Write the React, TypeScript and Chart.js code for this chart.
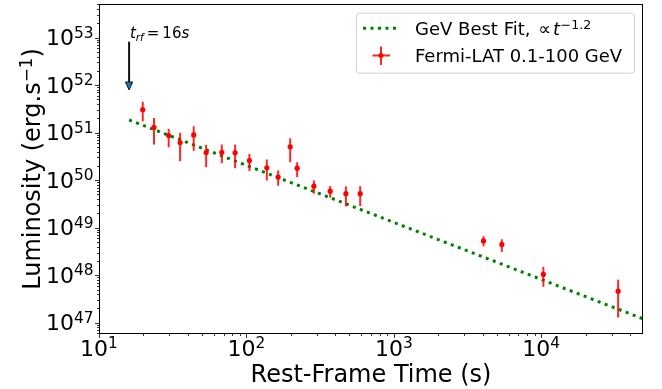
import React, { useEffect, useRef } from "react";
import { Chart, registerables } from "chart.js";
Chart.register(...registerables);

// ---- data ----
const times = [19.8, 23.6, 29.7, 35.5, 43.9, 53.3, 68.1, 83.8, 104.8, 137.5, 164.2, 198.1, 220.9, 286.8, 370, 473, 591.5, 4058, 5402, 10334, 33220];
const lum = [3.04e51, 1.29e51, 8.67e50, 6.18e50, 8.97e50, 3.81e50, 3.87e50, 3.76e50, 2.59e50, 1.82e50, 1.16e50, 5.02e50, 1.79e50, 7.48e49, 5.88e49, 5.19e49, 5.19e49, 5.26e48, 4.44e48, 1.04e48, 4.62e47];
const lumHi = [4.48e51, 2.04e51, 1.2e51, 9.89e50, 1.36e51, 5.53e50, 5.61e50, 5.61e50, 3.58e50, 2.72e50, 1.6e50, 7.6e50, 2.39e50, 9.86e49, 7.48e49, 7.38e49, 7.48e49, 6.6e48, 5.71e48, 1.5e48, 8.07e47];
const lumLo = [1.73e51, 5.61e50, 4.92e50, 2.51e50, 4.14e50, 1.87e50, 2.28e50, 1.79e50, 1.55e50, 9.86e49, 7.64e49, 2.39e50, 1.16e50, 5.19e49, 4.28e49, 2.81e49, 2.85e49, 4.06e48, 3.09e48, 5.7e47, 1.29e47];

const fitTimes = [16, 60000];
const fitLum = [1.85e51, 9.5e46];

const xMin = 10;
const xMax = 49000;
const yMin = 5.8e46;
const yMax = 5.09e53;
const xDecades = [1, 2, 3, 4];
const yDecades = [47, 48, 49, 50, 51, 52, 53];

const arrowTime = 16;
const arrowFrom = 8.2e52;
const arrowTo = 7.9e51;
const annotLum = 1e53;

const seriesFitLabel = "GeV Best Fit, ";
const seriesDataLabel = "Fermi-LAT 0.1-100 GeV";
const xTitle = "Rest-Frame Time (s)";
const yTitle = "Luminosity (erg.s";

const FONT = '"DejaVu Sans", "Liberation Sans", sans-serif';
const RED = "#ff0000";
const GREEN = "#008000";

function drawPow(ctx: CanvasRenderingContext2D, x: number, y: number, base: string, exp: string, size: number, align: "left" | "right" | "center") {
  const supSize = size * 0.7;
  ctx.font = `${size}px ${FONT}`;
  const wb = ctx.measureText(base).width;
  ctx.font = `${supSize}px ${FONT}`;
  const we = ctx.measureText(exp).width;
  const w = wb + we;
  let x0 = x;
  if (align === "right") x0 = x - w;
  if (align === "center") x0 = x - w / 2;
  ctx.textAlign = "left";
  ctx.textBaseline = "alphabetic";
  ctx.font = `${size}px ${FONT}`;
  ctx.fillText(base, x0, y);
  ctx.font = `${supSize}px ${FONT}`;
  ctx.fillText(exp, x0 + wb, y - size * 0.345);
}

function dottedLine(ctx: CanvasRenderingContext2D, x1: number, y1: number, x2: number, y2: number) {
  ctx.save();
  ctx.strokeStyle = GREEN;
  ctx.lineWidth = 3;
  ctx.setLineDash([3, 4.5]);
  ctx.beginPath();
  ctx.moveTo(x1, y1);
  ctx.lineTo(x2, y2);
  ctx.stroke();
  ctx.restore();
}

const mplPlugin = {
  id: "mplLook",
  beforeDatasetDraw(chart: any, args: any) {
    if (args.index !== 1) return;
    const ctx: CanvasRenderingContext2D = chart.ctx;
    const xs = chart.scales.x;
    const ys = chart.scales.y;
    const ca = chart.chartArea;
    ctx.save();
    ctx.beginPath();
    ctx.rect(ca.left, ca.top, ca.right - ca.left, ca.bottom - ca.top);
    ctx.clip();
    ctx.strokeStyle = "rgba(255,0,0,0.85)";
    ctx.lineWidth = 2;
    for (let i = 0; i < times.length; i++) {
      const px = xs.getPixelForValue(times[i]);
      ctx.beginPath();
      ctx.moveTo(px, ys.getPixelForValue(lumHi[i]));
      ctx.lineTo(px, ys.getPixelForValue(lumLo[i]));
      ctx.stroke();
    }
    ctx.restore();
  },
  afterDraw(chart: any) {
    const ctx: CanvasRenderingContext2D = chart.ctx;
    const xs = chart.scales.x;
    const ys = chart.scales.y;
    const ca = chart.chartArea;
    ctx.save();
    // frame
    ctx.strokeStyle = "#000";
    ctx.lineWidth = 1;
    ctx.strokeRect(ca.left + 0.5, ca.top + 0.5, ca.right - ca.left - 1, ca.bottom - ca.top - 1);
    // ticks
    ctx.beginPath();
    for (let d = 0; d <= 5; d++) {
      for (let m = 1; m <= 9; m++) {
        const v = m * Math.pow(10, d);
        if (v < xMin || v > xMax) continue;
        const px = Math.round(xs.getPixelForValue(v)) + 0.5;
        const len = m === 1 ? 4 : 2;
        ctx.moveTo(px, ca.bottom);
        ctx.lineTo(px, ca.bottom + len);
      }
    }
    for (let d = 46; d <= 53; d++) {
      for (let m = 1; m <= 9; m++) {
        const v = m * Math.pow(10, d);
        if (v < yMin || v > yMax) continue;
        const py = Math.round(ys.getPixelForValue(v)) + 0.5;
        const len = m === 1 ? 4 : 2;
        ctx.moveTo(ca.left, py);
        ctx.lineTo(ca.left - len, py);
      }
    }
    ctx.lineWidth = 0.8;
    ctx.stroke();

    // tick labels
    ctx.fillStyle = "#000";
    for (const d of xDecades) {
      const px = xs.getPixelForValue(Math.pow(10, d));
      drawPow(ctx, px, 356, "10", String(d), 22, "center");
    }
    for (const d of yDecades) {
      const py = ys.getPixelForValue(Math.pow(10, d));
      drawPow(ctx, 93.5, py + 7.6, "10", String(d), 22, "right");
    }

    // axis titles
    ctx.font = `24px ${FONT}`;
    ctx.textAlign = "center";
    ctx.textBaseline = "alphabetic";
    ctx.fillText(xTitle, (ca.left + ca.right) / 2, 381.5);

    ctx.save();
    ctx.translate(40, (ca.top + ca.bottom) / 2);
    ctx.rotate(-Math.PI / 2);
    ctx.font = `24px ${FONT}`;
    const w1 = ctx.measureText(yTitle).width;
    ctx.font = `${24 * 0.7}px ${FONT}`;
    const w2 = ctx.measureText("\u22121").width;
    ctx.font = `24px ${FONT}`;
    const w3 = ctx.measureText(")").width;
    const tot = w1 + w2 + w3;
    let x0 = -tot / 2;
    ctx.textAlign = "left";
    ctx.fillText(yTitle, x0, 0);
    ctx.font = `${24 * 0.7}px ${FONT}`;
    ctx.fillText("\u22121", x0 + w1, -24 * 0.345);
    ctx.font = `24px ${FONT}`;
    ctx.fillText(")", x0 + w1 + w2, 0);
    ctx.restore();

    // arrow
    const ax = xs.getPixelForValue(arrowTime);
    const ay1 = ys.getPixelForValue(arrowFrom);
    const ay2 = ys.getPixelForValue(arrowTo);
    const headLen = 8;
    ctx.strokeStyle = "#111";
    ctx.lineWidth = 2;
    ctx.beginPath();
    ctx.moveTo(ax, ay1);
    ctx.lineTo(ax, ay2 - headLen);
    ctx.stroke();
    ctx.beginPath();
    ctx.moveTo(ax - 3.6, ay2 - headLen);
    ctx.lineTo(ax + 3.6, ay2 - headLen);
    ctx.lineTo(ax, ay2);
    ctx.closePath();
    ctx.fillStyle = "#1f77b4";
    ctx.fill();
    ctx.lineWidth = 1;
    ctx.strokeStyle = "#111";
    ctx.stroke();

    // annotation text t_rf = 16s
    ctx.fillStyle = "#000";
    ctx.textAlign = "left";
    ctx.textBaseline = "alphabetic";
    const tx = ax + 0.8;
    const ty = ys.getPixelForValue(annotLum);
    let cx = tx;
    ctx.font = `italic 15px ${FONT}`;
    ctx.fillText("t", cx, ty);
    cx += ctx.measureText("t").width;
    ctx.font = `italic 10.5px ${FONT}`;
    ctx.fillText("rf", cx, ty + 3);
    cx += ctx.measureText("rf").width + 3;
    ctx.font = `15px ${FONT}`;
    ctx.fillText("=", cx, ty);
    cx += ctx.measureText("=").width + 3;
    ctx.fillText("16", cx, ty);
    cx += ctx.measureText("16").width;
    ctx.font = `italic 15px ${FONT}`;
    ctx.fillText("s", cx, ty);

    // legend
    const lx = 356, ly = 12.7, lw = 278, lh = 60;
    ctx.beginPath();
    (ctx as any).roundRect(lx + 0.5, ly + 0.5, lw, lh, 3);
    ctx.fillStyle = "rgba(255,255,255,0.8)";
    ctx.fill();
    ctx.strokeStyle = "rgba(204,204,204,0.9)";
    ctx.lineWidth = 1;
    ctx.stroke();

    dottedLine(ctx, 363, 28.3, 398, 28.3);
    ctx.fillStyle = "#000";
    ctx.font = `18px ${FONT}`;
    ctx.textAlign = "left";
    ctx.fillText(seriesFitLabel, 415, 34.8);
    let lxp = 415 + ctx.measureText(seriesFitLabel).width + 2;
    ctx.fillText("\u221d", lxp, 34.8);
    lxp += ctx.measureText("\u221d").width + 2;
    ctx.font = `italic 18px ${FONT}`;
    ctx.fillText("t", lxp, 34.8);
    lxp += ctx.measureText("t").width + 0.5;
    ctx.font = `${18 * 0.7}px ${FONT}`;
    ctx.fillText("\u22121.2", lxp, 34.8 - 18 * 0.345);

    // data legend marker
    ctx.strokeStyle = "rgba(255,0,0,0.85)";
    ctx.lineWidth = 2;
    ctx.beginPath();
    ctx.moveTo(381, 46.5);
    ctx.lineTo(381, 65);
    ctx.moveTo(372.5, 55.5);
    ctx.lineTo(390, 55.5);
    ctx.stroke();
    ctx.fillStyle = RED;
    ctx.beginPath();
    ctx.arc(381, 55.5, 2.5, 0, Math.PI * 2);
    ctx.fill();
    ctx.fillStyle = "#000";
    ctx.font = `18px ${FONT}`;
    ctx.fillText(seriesDataLabel, 415, 61.8);

    ctx.restore();
  },
};

export default function App() {
  const ref = useRef<HTMLCanvasElement>(null);
  useEffect(() => {
    const canvas = ref.current!;
    const chart = new Chart(canvas, {
      type: "scatter",
      data: {
        datasets: [
          {
            type: "line",
            label: seriesFitLabel,
            data: fitTimes.map((t, i) => ({ x: t, y: fitLum[i] })),
            borderColor: GREEN,
            borderWidth: 3,
            borderDash: [3, 4.5],
            borderCapStyle: "butt",
            pointRadius: 0,
            fill: false,
            order: 2,
          } as any,
          {
            type: "scatter",
            label: seriesDataLabel,
            data: times.map((t, i) => ({ x: t, y: lum[i] })),
            backgroundColor: RED,
            borderColor: RED,
            borderWidth: 0,
            pointRadius: 2.6,
            order: 1,
          },
        ],
      },
      options: {
        responsive: false,
        animation: false,
        devicePixelRatio: 1,
        layout: { padding: { left: 0, top: 3, right: 19, bottom: 0 } },
        plugins: { legend: { display: false }, tooltip: { enabled: false }, title: { display: false } },
        scales: {
          x: {
            type: "logarithmic",
            min: xMin,
            max: xMax,
            ticks: { display: false },
            grid: { display: false },
            border: { display: false },
            afterFit: (s: any) => { s.height = 55; },
          },
          y: {
            type: "logarithmic",
            min: yMin,
            max: yMax,
            ticks: { display: false },
            grid: { display: false },
            border: { display: false },
            afterFit: (s: any) => { s.width = 99; },
          },
        },
      },
      plugins: [mplPlugin],
    } as any);
    return () => chart.destroy();
  }, []);
  return (
    <div style={{ position: "absolute", left: 0, top: 0, width: 662, height: 389, background: "#fff" }}>
      <canvas ref={ref} width={662} height={389} style={{ display: "block" }} />
    </div>
  );
}
